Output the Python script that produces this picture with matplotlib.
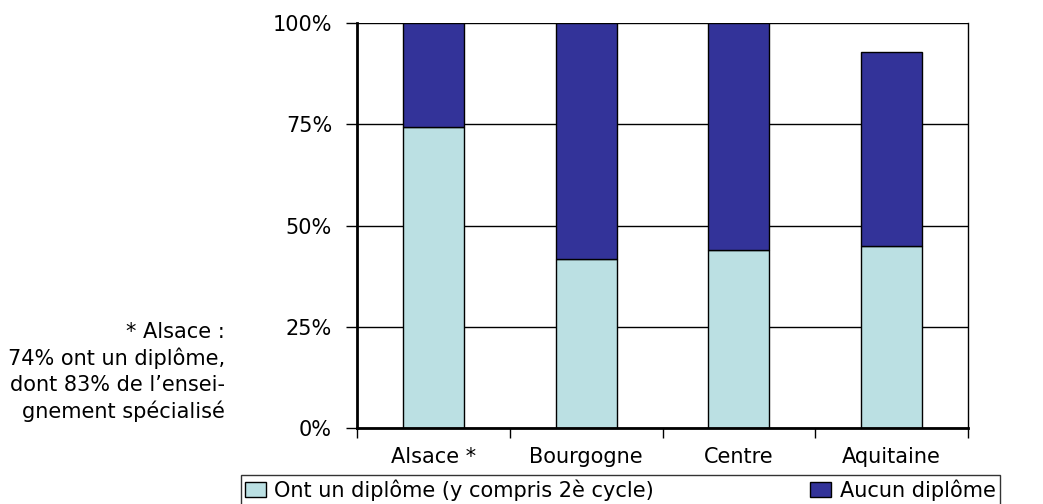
import numpy as np
import matplotlib.pyplot as plt

regions = ["Alsace *", "Bourgogne", "Centre", "Aquitaine"]
avec_diplome = [74.2, 41.7, 43.9, 44.9]
sans_diplome = [25.8, 58.3, 56.1, 47.9]
yticks = [0, 25, 50, 75, 100]
labels = ["Ont un diplôme (y compris 2è cycle)", "Aucun diplôme"]
note = "* Alsace :\n74% ont un diplôme,\ndont 83% de l\u2019ensei-\ngnement spécialisé"

light = "#BBE0E3"
dark = "#333399"

plt.rcParams['font.family'] = ['DejaVu Sans']
fs = 15

fig = plt.figure(figsize=(10.43, 5.04), dpi=100)
ax = fig.add_axes([357/1043, 76/504, 611/1043, 405/504])

x = np.arange(len(regions))
w = 0.4
ax.bar(x, avec_diplome, w, color=light, edgecolor="black", linewidth=1, label=labels[0])
ax.bar(x, sans_diplome, w, bottom=avec_diplome, color=dark, edgecolor="black", linewidth=1, label=labels[1])

ax.set_xlim(-0.5, len(regions) - 0.5)
ax.set_ylim(0, 100)
ax.set_axisbelow(True)
ax.yaxis.grid(True, color="black", linewidth=1)

ax.set_yticks(yticks)
ax.set_yticklabels([f"{v}%" for v in yticks], fontsize=fs)
ax.tick_params(axis="y", direction="out", length=8, width=1, pad=10)

ax.set_xticks(x)
ax.set_xticklabels(regions, fontsize=fs)
ax.set_xticks(np.arange(len(regions) + 1) - 0.5, minor=True)
ax.tick_params(axis="x", which="major", length=0, pad=14)
ax.tick_params(axis="x", which="minor", direction="out", length=7, width=1)

ax.spines["top"].set_visible(False)
ax.spines["left"].set_linewidth(2)
ax.spines["bottom"].set_linewidth(2)
ax.spines["right"].set_linewidth(1)

# note on the left
fig.text(225/1043, 1 - 372/504, note, ha="right", va="center", fontsize=fs, linespacing=1.33)

leg = fig.legend(loc="upper left", bbox_to_anchor=(241/1043, 1 - 475/504), ncol=2,
                 fontsize=fs, frameon=True, fancybox=False, edgecolor="black",
                 borderaxespad=0, handlelength=1.0, handleheight=0.7, handletextpad=0.4,
                 columnspacing=7.5, borderpad=0.2)
leg.get_frame().set_linewidth(1)

fig.savefig("out.png", dpi=100)
